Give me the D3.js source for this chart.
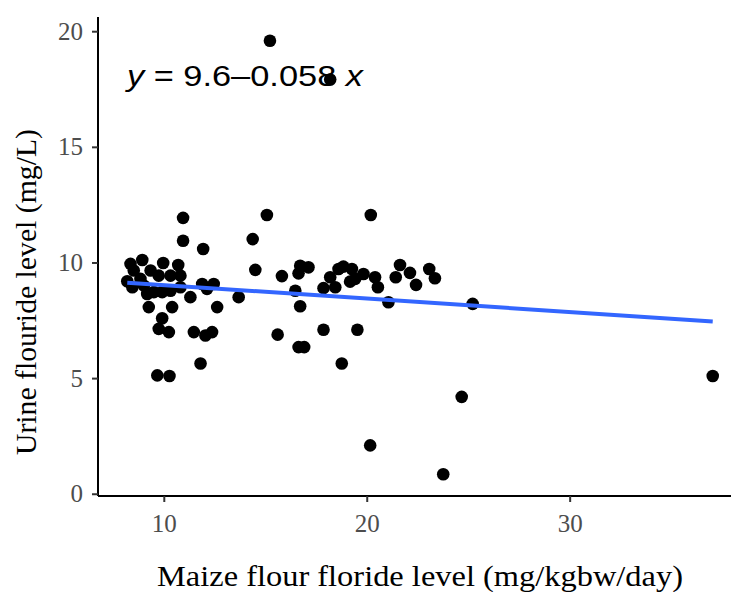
<!DOCTYPE html>
<html>
<head>
<meta charset="utf-8">
<script src="https://cdn.jsdelivr.net/npm/d3@7"></script>
<style>
  html, body { margin: 0; padding: 0; background: #fff; }
  svg { display: block; }
</style>
</head>
<body>
<svg id="chart" width="731" height="592"></svg>
<script>
// Maize flour fluoride intake (mg/kgbw/day) per participant
const maizeFluoride = [
  8.20, 8.36, 8.52, 8.45, 8.85, 8.94, 9.02, 9.18, 9.35, 9.51,
  9.75, 9.92, 9.97, 10.33, 10.33, 10.71, 10.82, 10.82, 10.95, 10.95,
  11.31, 11.89, 12.13, 12.46, 11.94, 9.26, 10.41, 12.63, 9.92, 9.75,
  10.25, 11.48, 12.05, 12.38, 11.81, 9.68, 10.28, 13.69, 14.38, 15.08,
  14.51, 15.23, 18.20, 15.82, 16.72, 17.13, 16.64, 16.48, 16.72, 15.61,
  16.64, 16.92, 17.87, 17.87, 18.20, 18.45, 18.61, 18.85, 19.27, 19.18,
  19.43, 19.84, 20.41, 20.55, 19.54, 18.77, 20.20, 20.17, 21.07, 21.64,
  22.13, 21.43, 22.43, 23.08, 23.36, 25.22, 24.68, 23.77, 37.05
];
// Matching urine fluoride level (mg/L)
const urineFluoride = [
  9.19, 9.94, 9.65, 8.93, 9.29, 10.11, 9.00, 8.64, 9.65, 8.72,
  9.43, 8.72, 9.98, 9.43, 8.78, 9.89, 9.43, 8.93, 11.93, 10.94,
  8.50, 9.07, 8.86, 9.07, 10.58, 8.07, 8.07, 8.07, 7.59, 7.13,
  6.99, 6.99, 6.84, 6.99, 5.63, 5.12, 5.09, 8.50, 11.01, 12.05,
  9.68, 19.59, 17.91, 9.41, 9.86, 9.79, 9.53, 8.78, 8.11, 6.88,
  6.34, 6.34, 7.09, 8.89, 9.36, 8.93, 9.72, 9.82, 9.72, 9.17,
  9.29, 9.50, 9.36, 8.93, 7.09, 5.63, 12.05, 2.09, 8.28, 9.89,
  9.55, 9.36, 9.03, 9.72, 9.32, 8.21, 4.19, 0.84, 5.09
];
// Fitted linear model: y = intercept + slope * x
const fitIntercept = 9.6;
const fitSlope = -0.058;
const xTicks = [10, 20, 30];
const yTicks = [0, 5, 10, 15, 20];

const svg = d3.select("#chart");
const panel = { left: 98, right: 742, top: 19, bottom: 496 };

const xMin = d3.min(maizeFluoride), xMax = d3.max(maizeFluoride);
const yMin = d3.min(urineFluoride), yMax = d3.max(urineFluoride);
const xPad = (xMax - xMin) * 0.05, yPad = (yMax - yMin) * 0.05;

const x = d3.scaleLinear().domain([xMin - xPad, xMax + xPad]).range([panel.left, panel.right]);
const y = d3.scaleLinear().domain([yMin - yPad, yMax + yPad]).range([panel.bottom, panel.top]);

// points
svg.append("g")
  .selectAll("circle")
  .data(maizeFluoride.map((d, i) => [d, urineFluoride[i]]))
  .join("circle")
  .attr("cx", d => x(d[0]))
  .attr("cy", d => y(d[1]))
  .attr("r", 6.3)
  .attr("fill", "#000");

// regression line across the observed range
const fitLine = [xMin, xMax].map(v => [v, fitIntercept + fitSlope * v]);
svg.append("path")
  .datum(fitLine)
  .attr("d", d3.line().x(d => x(d[0])).y(d => y(d[1])))
  .attr("fill", "none")
  .attr("stroke", "#3366FF")
  .attr("stroke-width", 4);

// axes
const xAxis = svg.append("g")
  .attr("transform", `translate(0,${panel.bottom})`)
  .call(d3.axisBottom(x).tickValues(xTicks).tickSize(6).tickPadding(12));
const yAxis = svg.append("g")
  .attr("transform", `translate(${panel.left},0)`)
  .call(d3.axisLeft(y).tickValues(yTicks).tickSize(6).tickPadding(9));

[xAxis, yAxis].forEach(g => {
  g.select(".domain").attr("stroke", "#000").attr("stroke-width", 2);
  g.selectAll(".tick line").attr("stroke", "#333").attr("stroke-width", 2);
  g.selectAll(".tick text")
    .attr("fill", "#4d4d4d")
    .style("font-family", "'Liberation Serif', 'Times New Roman', serif")
    .style("font-size", "25px");
});
xAxis.select(".domain").attr("d", `M${panel.left},0H${panel.right}`);
yAxis.select(".domain").attr("d", `M0,${panel.top - 2}V${panel.bottom}`);

// equation label
const eq = svg.append("text")
  .attr("x", 127)
  .attr("y", 86)
  .style("font-family", "'Liberation Sans', Arial, sans-serif")
  .style("font-size", "29px")
  .attr("fill", "#000")
  .attr("textLength", 236)
  .attr("lengthAdjust", "spacingAndGlyphs");
eq.append("tspan").attr("font-style", "italic").text("y");
eq.append("tspan").text(" = 9.6\u20130.058 ");
eq.append("tspan").attr("font-style", "italic").text("x");

// axis titles
svg.append("text")
  .attr("x", 420)
  .attr("y", 586)
  .attr("text-anchor", "middle")
  .style("font-family", "'Liberation Serif', 'Times New Roman', serif")
  .style("font-size", "29px")
  .attr("fill", "#000")
  .attr("textLength", 526)
  .attr("lengthAdjust", "spacingAndGlyphs")
  .text("Maize flour floride level (mg/kgbw/day)");

svg.append("text")
  .attr("transform", "translate(36,292) rotate(-90)")
  .attr("text-anchor", "middle")
  .style("font-family", "'Liberation Serif', 'Times New Roman', serif")
  .style("font-size", "29px")
  .attr("fill", "#000")
  .attr("textLength", 326)
  .attr("lengthAdjust", "spacingAndGlyphs")
  .text("Urine flouride level (mg/L)");
</script>
</body>
</html>
